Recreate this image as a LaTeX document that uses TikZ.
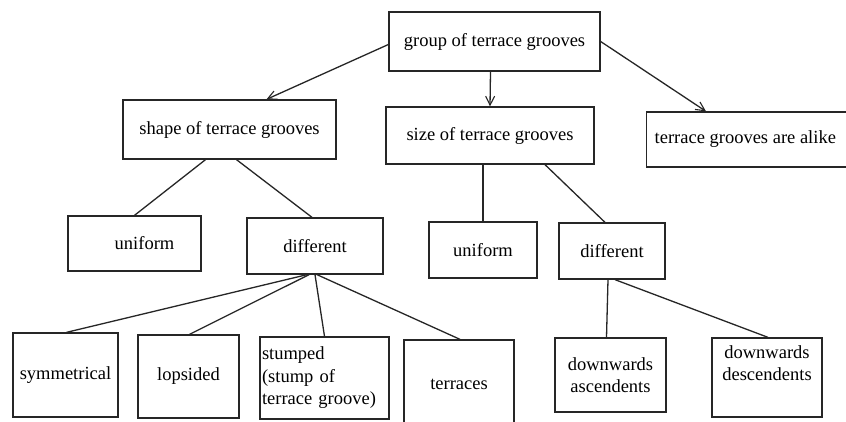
\documentclass[tikz,border=0pt]{standalone}
\usepackage{fontspec}
\setmainfont{Liberation Serif}
\usetikzlibrary{arrows.meta}
\begin{document}
\begin{tikzpicture}[x=1pt,y=-1pt,
  box/.style={draw=black!85, line width=1.3pt, inner sep=0pt, align=center,
    font=\fontsize{18.5}{22.5}\selectfont},
  con/.style={draw=black!85, line width=1.3pt},
  arr/.style={con, -{Straight Barb[length=9pt,width=9pt,line width=1.1pt]}}]
\useasboundingbox (0,0) rectangle (846,421);
\fill[white] (0,0) rectangle (846,421);
% level 0
\node[box, minimum width=211pt, minimum height=59pt] (group) at (494.5,41.5) {group of terrace grooves};
% level 1
\node[box, minimum width=213pt, minimum height=59pt] (shape) at (229.5,129.5) {shape of terrace grooves};
\node[box, minimum width=208pt, minimum height=57pt] (size) at (490,135.5) {size of terrace grooves};
\node[box, anchor=west, inner xsep=8pt, minimum height=55pt] (alike) at (646,139.5) {terrace grooves are alike\hspace*{20pt}};
% level 2
\node[box, minimum width=133pt, minimum height=55pt] (uni1) at (134.5,243.5) {\hspace*{20pt}uniform};
\node[box, minimum width=136pt, minimum height=56pt] (dif1) at (315,246) {different};
\node[box, minimum width=108pt, minimum height=56pt] (uni2) at (483,250) {uniform};
\node[box, minimum width=106pt, minimum height=56pt] (dif2) at (612,251) {different};
% level 3
\node[box, minimum width=105pt, minimum height=84pt] (sym) at (65.5,375) {symmetrical};
\node[box, minimum width=101pt, minimum height=83pt] (lop) at (188.5,376.5) {lopsided};
\node[box, inner xsep=2pt, text width=125pt, align=left, minimum height=82pt] (stu) at (324.5,378) {stumped\\(stump of\\terrace groove)};
\node[box, minimum width=110pt, minimum height=88pt] (ter) at (459,384) {terraces};
\node[box, minimum width=111pt, minimum height=74pt] (asc) at (610.5,375) {downwards\\ascendents};
\node[box, minimum width=110pt, minimum height=79pt] (des) at (767,377.5) {downwards\\descendents\\[6pt]};
% arrows
\draw[arr] ([yshift=-3pt]group.west) -- ([xshift=37pt]shape.north);
\draw[arr] ([xshift=-4pt]group.south) -- (size.north);
\draw[arr] (group.east) -- ([xshift=60pt]alike.north west);
% lines
\draw[con] ([xshift=-24pt]shape.south) -- ([xshift=0pt]uni1.north);
\draw[con] ([xshift=7pt]shape.south) -- ([xshift=-3pt]dif1.north);
\draw[con] ([xshift=-7pt]size.south) -- (uni2.north);
\draw[con] ([xshift=55pt]size.south) -- ([xshift=-7pt]dif2.north);
\draw[con] ([xshift=-8pt]dif1.south) -- ([xshift=1pt]sym.north);
\draw[con] ([xshift=-6pt]dif1.south) -- ([xshift=1pt]lop.north);
\draw[con] ([xshift=0pt]dif1.south) -- ([xshift=0pt]stu.north);
\draw[con] ([xshift=2pt]dif1.south) -- ([xshift=1pt]ter.north);
\draw[con] ([xshift=-4pt]dif2.south) -- ([xshift=-4pt]asc.north);
\draw[con] ([xshift=3pt]dif2.south) -- ([xshift=1pt]des.north);
\end{tikzpicture}
\end{document}
